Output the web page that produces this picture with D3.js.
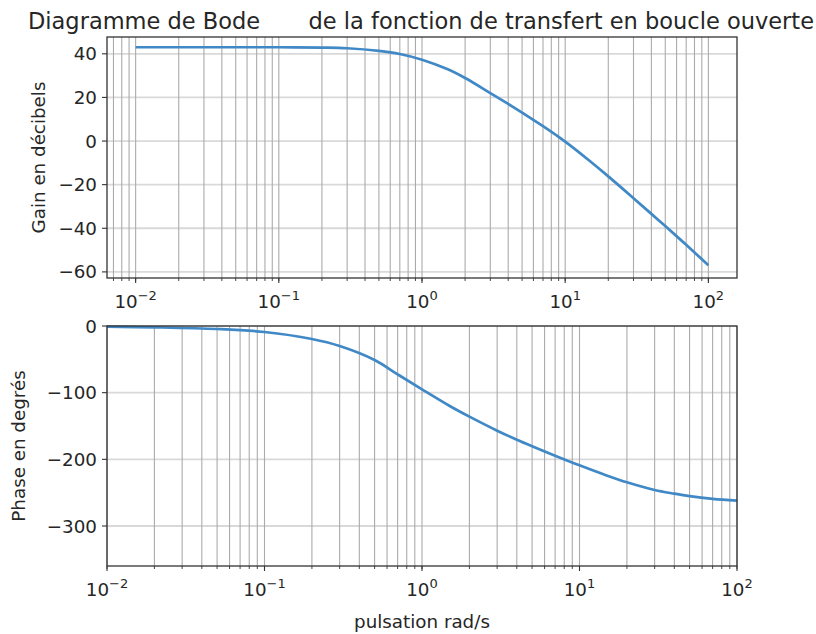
<!DOCTYPE html>
<html>
<head>
<meta charset="utf-8">
<script src="https://cdn.jsdelivr.net/npm/d3@7"></script>
<style>
  body { margin: 0; background: #fff; }
  text { font-family: "DejaVu Sans", sans-serif; fill: #262626; }
</style>
</head>
<body>
<div id="figure"></div>
<script>
// pulsations (rad/s) where the curves were read
const omega = [0.01, 0.02, 0.05, 0.1, 0.2, 0.3, 0.5, 0.7, 1, 1.5, 2, 3, 4, 5, 7, 10, 15, 20, 30, 40, 50, 70, 100]
// gain en dB
const gain = [43.0, 43.0, 43.0, 43.0, 42.85, 42.55, 41.35, 39.9, 37.3, 33.0, 28.9, 22.0, 17.0, 13.0, 6.8, -0.3, -9.4, -16.2, -26.2, -33.4, -39.0, -47.6, -56.9]
// phase en degrés
const phase = [-1, -2, -4.5, -9, -19.5, -30, -51, -72.5, -95, -120, -136, -157, -170.5, -180.3, -194.5, -209, -224.5, -234.5, -246, -251.5, -255.2, -259.3, -262]

const gainTicks = [-60, -40, -20, 0, 20, 40]
const phaseTicks = [-300, -200, -100, 0]
const decades = [-2, -1, 0, 1, 2]

const W = 816, H = 634
const svg = d3.select('#figure').append('svg')
  .attr('width', W).attr('height', H)

const left = 107, right = 737
const lineColor = '#4089c6'
const fs = 18.3

function minorValues(domain) {
  const vals = []
  const lo = Math.floor(Math.log10(domain[0])), hi = Math.ceil(Math.log10(domain[1]))
  for (let e = lo; e <= hi; e++) {
    for (let m = 1; m < 10; m++) {
      const v = m * Math.pow(10, e)
      if (v >= domain[0] * 0.9999 && v <= domain[1] * 1.0001) vals.push(v)
    }
  }
  return vals
}

function supLabel(sel, e) {
  sel.text('10')
  sel.append('tspan')
    .attr('dy', -8)
    .attr('font-size', 13)
    .text(e < 0 ? '\u2212' + (-e) : String(e))
}

function panel(top, bottom, xDomain, yDomain, yTicks, xs, ys, yLabel, yLabelX) {
  const x = d3.scaleLog().domain(xDomain).range([left, right])
  const y = d3.scaleLinear().domain(yDomain).range([bottom, top])
  const g = svg.append('g')

  // horizontal grid
  g.selectAll('.hgrid').data(yTicks).enter().append('line')
    .attr('x1', left).attr('x2', right)
    .attr('y1', d => y(d)).attr('y2', d => y(d))
    .attr('stroke', '#d9d9d9').attr('stroke-width', 1.8)

  // vertical grid (major + minor)
  const minors = minorValues(xDomain)
  g.selectAll('.vgrid').data(minors).enter().append('line')
    .attr('y1', top).attr('y2', bottom)
    .attr('x1', d => x(d)).attr('x2', d => x(d))
    .attr('stroke', '#ababab').attr('stroke-width', 1.1)

  // curve
  const line = d3.line()
    .x((d, i) => x(xs[i]))
    .y(d => y(d))
    .curve(d3.curveCatmullRom.alpha(0.5))
  g.append('path')
    .datum(ys)
    .attr('d', line)
    .attr('fill', 'none')
    .attr('stroke', lineColor)
    .attr('stroke-width', 2.7)

  // spines
  g.append('rect')
    .attr('x', left).attr('y', top)
    .attr('width', right - left).attr('height', bottom - top)
    .attr('fill', 'none').attr('stroke', '#333').attr('stroke-width', 1.3)

  // x ticks
  g.selectAll('.xminor').data(minors).enter().append('line')
    .attr('x1', d => x(d)).attr('x2', d => x(d))
    .attr('y1', bottom).attr('y2', bottom + 3)
    .attr('stroke', '#333').attr('stroke-width', 0.9)
  g.selectAll('.xmajor').data(decades).enter().append('line')
    .attr('x1', d => x(Math.pow(10, d))).attr('x2', d => x(Math.pow(10, d)))
    .attr('y1', bottom).attr('y2', bottom + 5)
    .attr('stroke', '#333').attr('stroke-width', 1.1)
  g.selectAll('.xlab').data(decades).enter().append('text')
    .attr('x', d => x(Math.pow(10, d)))
    .attr('y', bottom + 30)
    .attr('text-anchor', 'middle')
    .attr('font-size', fs)
    .each(function(d) { supLabel(d3.select(this), d) })

  // y ticks
  g.selectAll('.ytick').data(yTicks).enter().append('line')
    .attr('x1', left - 5).attr('x2', left)
    .attr('y1', d => y(d)).attr('y2', d => y(d))
    .attr('stroke', '#333').attr('stroke-width', 1.1)
  g.selectAll('.ylab').data(yTicks).enter().append('text')
    .attr('x', left - 10)
    .attr('y', d => y(d) + 6.5)
    .attr('text-anchor', 'end')
    .attr('font-size', fs)
    .text(d => d < 0 ? '\u2212' + (-d) : String(d))

  g.append('text')
    .attr('transform', `translate(${yLabelX}, ${(top + bottom) / 2}) rotate(-90)`)
    .attr('text-anchor', 'middle')
    .attr('font-size', fs)
    .text(yLabel)
}

panel(37, 278, [Math.pow(10, -2.2), Math.pow(10, 2.2)], [-62.8, 47.7], gainTicks,
  omega, gain, 'Gain en d\u00e9cibels', 45)
panel(326, 566, [0.01, 100], [-360, 0], phaseTicks,
  omega, phase, 'Phase en degr\u00e9s', 25)

svg.append('text')
  .attr('x', (left + right) / 2)
  .attr('y', 628)
  .attr('text-anchor', 'middle')
  .attr('font-size', fs)
  .text('pulsation rad/s')

// title: two pieces with a wide gap between them
svg.append('text')
  .attr('x', 28)
  .attr('y', 29)
  .attr('font-size', 22.5)
  .text('Diagramme de Bode')
svg.append('text')
  .attr('x', 814)
  .attr('y', 29)
  .attr('text-anchor', 'end')
  .attr('font-size', 22.5)
  .text('de la fonction de transfert en boucle ouverte')
</script>
</body>
</html>
